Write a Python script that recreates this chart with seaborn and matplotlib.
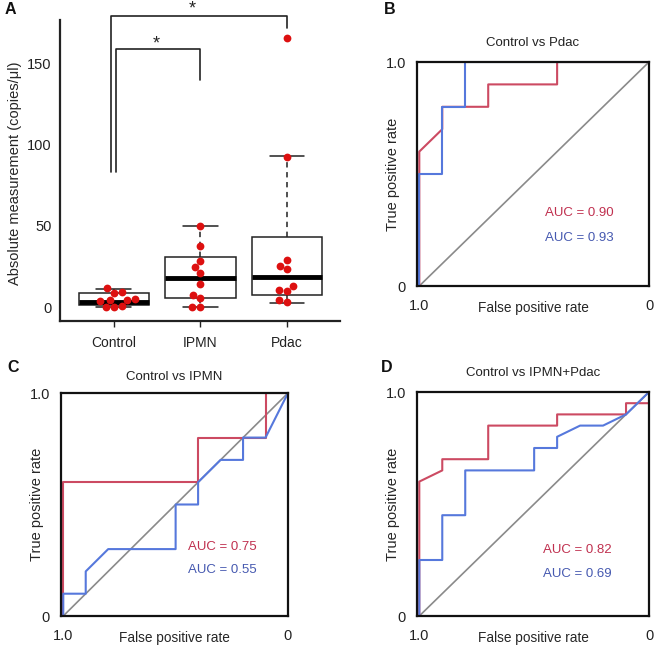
import matplotlib
matplotlib.use("Agg")
import matplotlib.pyplot as plt
import seaborn as sns
import pandas as pd

sns.set_style("white")
plt.rcParams['font.family'] = ['Liberation Sans', 'DejaVu Sans']

# ---------------- data ----------------
categories = ["Control", "IPMN", "Pdac"]
control_vals = [11.5, 9.4, 8.8, 4.8, 4.5, 4.3, 3.5, 0.8, 0.3, 0.0]
ipmn_vals = [50.2, 37.8, 28.6, 24.9, 21.2, 14.4, 7.2, 5.8, 0.0, 0.0]
pdac_vals = [166.0, 92.8, 29.0, 25.3, 23.5, 13.0, 10.5, 9.9, 4.3, 3.3]

# box summaries (q1, median, q3, whisker low, whisker high)
box_q1 = [1.2, 5.6, 7.4]
box_med = [3.3, 18.0, 18.5]
box_q3 = [8.6, 31.0, 43.0]
box_wlo = [0.0, 0.0, 2.5]
box_whi = [11.0, 50.0, 93.0]

a_yticks = [0, 50, 100, 150]

# ROC curves: x = specificity (axis runs 1.0 -> 0), y = sensitivity
roc_b_red_x = [1, 1, 0.9, 0.9, 0.7, 0.7, 0.4, 0.4, 0]
roc_b_red_y = [0, 0.6, 0.7, 0.8, 0.8, 0.9, 0.9, 1.0, 1.0]
roc_b_blue_x = [1, 1, 0.9, 0.9, 0.8, 0.8, 0]
roc_b_blue_y = [0, 0.5, 0.5, 0.8, 0.8, 1.0, 1.0]

roc_c_red_x = [1, 1, 0.4, 0.4, 0.1, 0.1, 0]
roc_c_red_y = [0, 0.6, 0.6, 0.8, 0.8, 1.0, 1.0]
roc_c_blue_x = [1, 1, 0.9, 0.9, 0.8, 0.5, 0.5, 0.4, 0.4, 0.3, 0.2, 0.2, 0.1, 0]
roc_c_blue_y = [0, 0.1, 0.1, 0.2, 0.3, 0.3, 0.5, 0.5, 0.6, 0.7, 0.7, 0.8, 0.8, 1.0]

roc_d_red_x = [1, 1, 0.9, 0.9, 0.7, 0.7, 0.4, 0.4, 0.1, 0.1, 0]
roc_d_red_y = [0, 0.6, 0.65, 0.7, 0.7, 0.85, 0.85, 0.9, 0.9, 0.95, 0.95]
roc_d_blue_x = [1, 1, 0.9, 0.9, 0.8, 0.8, 0.5, 0.5, 0.4, 0.4, 0.3, 0.2, 0.1, 0]
roc_d_blue_y = [0, 0.25, 0.25, 0.45, 0.45, 0.65, 0.65, 0.75, 0.75, 0.8, 0.85, 0.85, 0.9, 1.0]

titles = ["Control vs Pdac", "Control vs IPMN", "Control vs IPMN+Pdac"]
auc_red = ["AUC = 0.90", "AUC = 0.75", "AUC = 0.82"]
auc_blue = ["AUC = 0.93", "AUC = 0.55", "AUC = 0.69"]

RED_LINE = "#cc4a62"
BLUE_LINE = "#5678dc"
RED_TXT = "#c0304f"
BLUE_TXT = "#4659b0"
DOT = "#dd1010"

# ---------------- figure ----------------
W, H = 666, 653
fig = plt.figure(figsize=(W / 100, H / 100), dpi=100)

def box(l, t, r, b):
    return [l / W, 1 - b / H, (r - l) / W, (b - t) / H]

axA = fig.add_axes(box(60, 20, 340, 321))
axB = fig.add_axes(box(417, 62, 649, 286))
axC = fig.add_axes(box(61, 393, 288, 616))
axD = fig.add_axes(box(417, 392, 649, 616))

# ---------------- panel A ----------------
df = pd.DataFrame({
    "group": [categories[0]] * len(control_vals) + [categories[1]] * len(ipmn_vals)
             + [categories[2]] * len(pdac_vals),
    "value": control_vals + ipmn_vals + pdac_vals,
})

stats = []
for i, c in enumerate(categories):
    stats.append(dict(label=c, q1=box_q1[i], med=box_med[i], q3=box_q3[i],
                      whislo=box_wlo[i], whishi=box_whi[i], fliers=[]))
axA.bxp(stats, positions=[0, 1, 2], widths=0.81, capwidths=0.4,
        showfliers=False, patch_artist=True,
        boxprops=dict(facecolor="white", edgecolor="#222222", linewidth=1.1),
        medianprops=dict(color="black", linewidth=3.5, solid_capstyle="butt"),
        whiskerprops=dict(color="#222222", linewidth=1.1, linestyle=(0, (3.5, 3))),
        capprops=dict(color="#222222", linewidth=1.1), zorder=2)

sns.swarmplot(data=df, x="group", y="value", order=categories, color=DOT,
              size=5.6, ax=axA, zorder=3)

axA.set_xlim(-0.62, 2.61)
axA.set_ylim(-8.6, 177)
axA.set_yticks(a_yticks)
axA.set_xticks([0, 1, 2])
axA.set_xticklabels(categories)
axA.set_xlabel("")
axA.set_ylabel("Absolute measurement (copies/\u03bcl)", fontsize=10.5)
axA.yaxis.set_label_coords(-0.161, 0.49)
axA.yaxis.label.set_va("center")
for s in ["top", "right"]:
    axA.spines[s].set_visible(False)
for s in ["left", "bottom"]:
    axA.spines[s].set_linewidth(1.6)
    axA.spines[s].set_color("#222222")
axA.tick_params(axis="y", length=0, pad=6, labelsize=10.5, colors="#222222")
axA.tick_params(axis="x", length=4, width=1, pad=7, labelsize=10, colors="#222222",
                direction="out", bottom=True)

# significance brackets
axA.plot([-0.035, -0.035, 2.0, 2.0], [83, 179.6, 179.6, 172], color="#222222",
         lw=1.2, clip_on=False, zorder=4)
axA.plot([0.023, 0.023, 1.0, 1.0], [83, 159, 159, 140], color="#222222",
         lw=1.2, clip_on=False, zorder=4)
axA.text(0.90, 183.5, "*", ha="center", va="center", fontsize=13, clip_on=False)
axA.text(0.486, 162.5, "*", ha="center", va="center", fontsize=13, clip_on=False)

# ---------------- ROC panels ----------------
roc_sets = [
    (axB, roc_b_red_x, roc_b_red_y, roc_b_blue_x, roc_b_blue_y, 0.552, 0.326, 0.214, 1.085),
    (axC, roc_c_red_x, roc_c_red_y, roc_c_blue_x, roc_c_blue_y, 0.559, 0.309, 0.206, 1.072),
    (axD, roc_d_red_x, roc_d_red_y, roc_d_blue_x, roc_d_blue_y, 0.543, 0.295, 0.1875, 1.085),
]
for k, (ax, rx, ry, bx, by, tx, ty1, ty2, titley) in enumerate(roc_sets):
    sns.lineplot(x=[1, 0], y=[0, 1], color="#8a8a8a", lw=1.2, ax=ax,
                 sort=False, estimator=None)
    sns.lineplot(x=rx, y=ry, color=RED_LINE, lw=1.5, ax=ax, sort=False,
                 estimator=None)
    sns.lineplot(x=bx, y=by, color=BLUE_LINE, lw=1.5, ax=ax, sort=False,
                 estimator=None)
    ax.set_xlim(1.01, 0.0)
    ax.set_ylim(0.0, 1.0)
    ax.set_xticks([1.0, 0.0])
    ax.set_xticklabels(["1.0", "0"])
    ax.set_yticks([0.0, 1.0])
    ax.set_yticklabels(["0", "1.0"])
    ax.tick_params(axis="both", length=0, labelsize=10.5, colors="#222222")
    ax.tick_params(axis="x", pad=9)
    ax.tick_params(axis="y", pad=8)
    for s in ax.spines.values():
        s.set_visible(True)
        s.set_linewidth(1.6)
        s.set_color("#111111")
    ax.set_xlabel("False positive rate", fontsize=9.8)
    ax.set_ylabel("True positive rate", fontsize=10.5)
    ax.xaxis.set_label_coords(0.5, -0.097)
    ax.xaxis.label.set_va("center")
    ax.yaxis.set_label_coords(-0.104, 0.5)
    ax.yaxis.label.set_va("center")
    ax.text(0.5, titley, titles[k], transform=ax.transAxes, ha="center",
            va="center", fontsize=9.5, color="#222222")
    ax.text(tx, ty1, auc_red[k], transform=ax.transAxes, ha="left",
            va="center", fontsize=9.5, color=RED_TXT)
    ax.text(tx, ty2, auc_blue[k], transform=ax.transAxes, ha="left",
            va="center", fontsize=9.5, color=BLUE_TXT)
    ax.grid(False)

# panel letters
for letter, (px, py) in zip("ABCD", [(10, 9), (390, 10), (13, 368), (387, 368)]):
    fig.text(px / W, 1 - py / H, letter, ha="center", va="center",
             fontsize=11.5, fontweight="bold", color="#111111")

fig.savefig("out.png", dpi=100)
